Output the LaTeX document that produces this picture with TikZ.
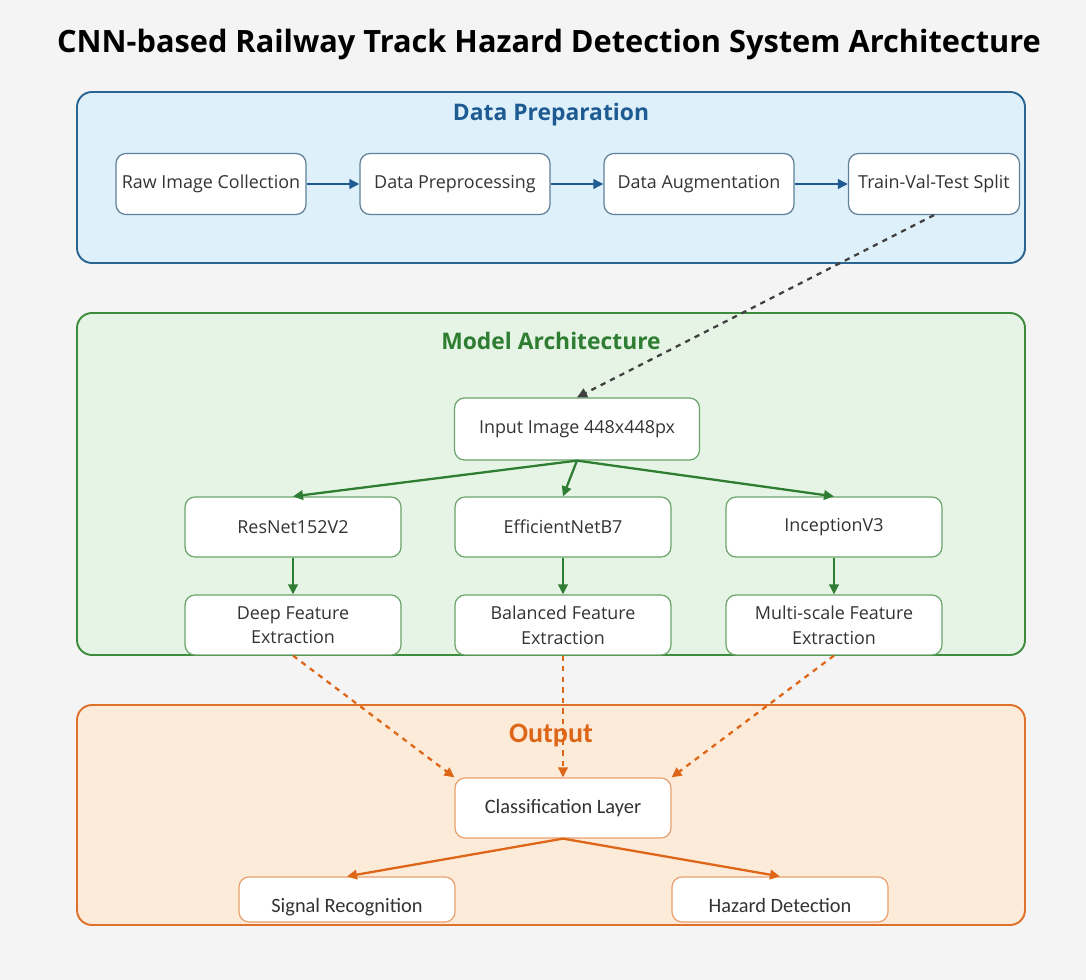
\documentclass[tikz,border=0pt]{standalone}
\usepackage{fontspec}
\setmainfont{Open Sans}
\newfontfamily\narrowfont{Carlito}
\usetikzlibrary{positioning,arrows.meta}
\definecolor{pagebg}{HTML}{F4F4F4}
\definecolor{inktext}{HTML}{333333}
\definecolor{prepfill}{HTML}{DEF1FA}
\definecolor{prepline}{HTML}{2A6592}
\definecolor{prepbox}{HTML}{5F8099}
\definecolor{prepink}{HTML}{1E5B93}
\definecolor{modelfill}{HTML}{E6F4E5}
\definecolor{modelline}{HTML}{3D8B3D}
\definecolor{modelbox}{HTML}{6BA56B}
\definecolor{modelink}{HTML}{2E7D32}
\definecolor{outfill}{HTML}{FDEBD9}
\definecolor{outline}{HTML}{E0712B}
\definecolor{outbox}{HTML}{E8A070}
\definecolor{outink}{HTML}{DD6618}
\tikzset{
  panel/.style={rounded corners=0.3cm, line width=1.1pt},
  panel title/.style={font=\fontsize{13}{15}\selectfont\bfseries},
  stage box/.style={rectangle, rounded corners=0.2cm, draw, fill=white, text=inktext,
    font=\fontsize{10.2}{14}\selectfont, align=center, inner sep=2pt, line width=0.7pt},
  prep box/.style={stage box, draw=prepbox, minimum width=3.8cm, minimum height=1.22cm},
  model box/.style={stage box, draw=modelbox, minimum width=4.32cm, minimum height=1.2cm},
  out box/.style={stage box, draw=outbox, minimum width=4.32cm, minimum height=1.2cm,
    font=\narrowfont\fontsize{11.6}{14}\selectfont},
  result box/.style={out box, minimum height=0.9cm, text height=0.63cm, text depth=0.13cm},
  flow/.style={->, line width=1.3pt},
}
\begin{document}
\begin{tikzpicture}[x=0.02cm, y=-0.02cm, >={Triangle[length=0.2cm, width=0.19cm]}]
        % Background
        \fill[pagebg] (0,0) rectangle (1086,980);
        \node[text=black, font=\fontsize{17.5}{20}\selectfont\bfseries] (title) at (549,45)
          {CNN-based Railway Track Hazard Detection System Architecture};
        % Panels
        \draw[panel, draw=prepline, fill=prepfill] (77,92) rectangle (1025,263);
        \draw[panel, draw=modelline, fill=modelfill] (77,313) rectangle (1025,655);
        \draw[panel, draw=outline, fill=outfill] (77,705) rectangle (1025,925);
        \node[panel title, text=prepink] (preptitle) at (551,115) {Data Preparation};
        \node[panel title, text=modelink] (modeltitle) at (551,341) {Model Architecture};
        \node[panel title, text=outink, font=\narrowfont\fontsize{16}{18}\selectfont\bfseries] (outtitle) at (551,735) {Output};
        % Nodes
        \node[prep box] (raw) at (211,184) {Raw Image Collection};
        \node[prep box] (pre) at (455,184) {Data Preprocessing};
        \node[prep box] (aug) at (699,184) {Data Augmentation};
        \node[prep box, minimum width=3.42cm, inner xsep=0pt] (split) at (934,184) {Train-Val-Test Split};
        \node[model box, minimum width=4.9cm, minimum height=1.24cm] (input) at (577,429) {Input Image 448x448px};
        \node[model box] (resnet) at (293,527) {ResNet152V2};
        \node[model box] (effnet) at (563,527) {EfficientNetB7};
        \node[model box] (incept) at (834,527) {InceptionV3};
        \node[model box] (deep) at (293,625) {Deep Feature\\Extraction};
        \node[model box] (balanced) at (563,625) {Balanced Feature\\Extraction};
        \node[model box] (multi) at (834,625) {Multi-scale Feature\\Extraction};
        \node[out box] (classify) at (563,808) {Classification Layer};
        \node[result box] (signal) at (347,899.5) {Signal Recognition};
        \node[result box] (hazard) at (780,899.5) {Hazard Detection};
        % Paths
        \draw[flow, prepink] (raw) -- (pre);
        \draw[flow, prepink] (pre) -- (aug);
        \draw[flow, prepink] (aug) -- (split);
        \draw[->, dashed, line width=1.3pt, black!75] (split.south) -- (input.north);
        \draw[flow, modelink] (input.south) -- (resnet.north);
        \draw[flow, modelink] (input.south) -- (effnet.north);
        \draw[flow, modelink] (input.south) -- (incept.north);
        \draw[flow, modelink] (resnet) -- (deep);
        \draw[flow, modelink] (effnet) -- (balanced);
        \draw[flow, modelink] (incept) -- (multi);
        \draw[flow, dashed, outink] (deep.south) -- (classify.north west);
        \draw[flow, dashed, outink] (balanced.south) -- (classify.north);
        \draw[flow, dashed, outink] (multi.south) -- (classify.north east);
        \draw[flow, outink] (classify.south) -- (signal.north);
        \draw[flow, outink] (classify.south) -- (hazard.north);
\end{tikzpicture}
\end{document}
